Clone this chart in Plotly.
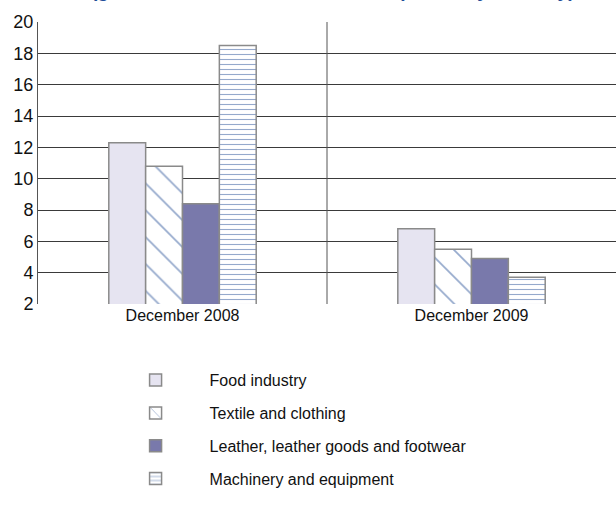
import plotly.graph_objects as go

# Period categories and industry series
periods = ["December 2008", "December 2009"]
food = [12.3, 6.8]
textile = [10.8, 5.5]
leather = [8.4, 4.9]
machinery = [18.5, 3.7]
series_names = [
    "Food industry",
    "Textile and clothing",
    "Leather, leather goods and footwear",
    "Machinery and equipment",
]
y_ticks = [2, 4, 6, 8, 10, 12, 14, 16, 18, 20]
title_text = "(growth rate of the number of companies by industry)"

FONT = "Liberation Sans Narrow, Arial Narrow, Liberation Sans, Arial, sans-serif"
OUTLINE = dict(color="#8a8a8a", width=1.5)
HATCH = "#2c5499"

fig = go.Figure()
fig.add_bar(name=series_names[0], x=periods, y=food, legendgroup="a",
            marker=dict(color="#e6e4f1", line=OUTLINE))
fig.add_bar(name=series_names[1], x=periods, y=textile, legendgroup="b",
            marker=dict(color="white", line=OUTLINE,
                        pattern=dict(shape="\\", fgcolor=HATCH, bgcolor="white",
                                     size=19, solidity=0.09)))
fig.add_bar(name=series_names[2], x=periods, y=leather, legendgroup="c",
            marker=dict(color="#7979ab", line=OUTLINE))
fig.add_bar(name=series_names[3], x=periods, y=machinery, legendgroup="d",
            marker=dict(color="white", line=OUTLINE,
                        pattern=dict(shape="-", fgcolor=HATCH, bgcolor="white",
                                     size=5, solidity=0.22)))

# divider between the two periods
fig.add_shape(type="line", xref="x", yref="paper", x0=0.5, x1=0.5, y0=0, y1=1,
              line=dict(color="#555555", width=1))

fig.add_annotation(text="<b>" + title_text + "</b>", xref="paper", yref="paper",
                   x=0.51, y=1, xanchor="center", yanchor="bottom", yshift=19,
                   showarrow=False, font=dict(family=FONT, size=19, color="#1f4e99"))

fig.update_layout(
    width=616, height=507,
    margin=dict(l=38, r=0, t=22, b=203),
    paper_bgcolor="white", plot_bgcolor="white",
    barmode="group", bargap=0.49, bargroupgap=0,
    font=dict(family=FONT, color="#111111"),
    showlegend=True,
    legend=dict(orientation="v", x=0.11, xanchor="left", y=-0.21, yanchor="top",
                font=dict(family=FONT, size=16, color="#111111"),
                tracegroupgap=9, traceorder="grouped", itemwidth=98,
                bgcolor="rgba(0,0,0,0)"),
)
fig.update_xaxes(showgrid=False, showline=False, ticks="",
                 tickfont=dict(family=FONT, size=16, color="#111111"))
fig.update_yaxes(range=[2, 20], tickvals=y_ticks, showgrid=True,
                 gridcolor="#3a3a3a", gridwidth=1, showline=True,
                 linecolor="#555555", linewidth=1, ticks="", zeroline=False,
                 tickfont=dict(family=FONT, size=18, color="#111111"))

fig.write_html("out.html")
